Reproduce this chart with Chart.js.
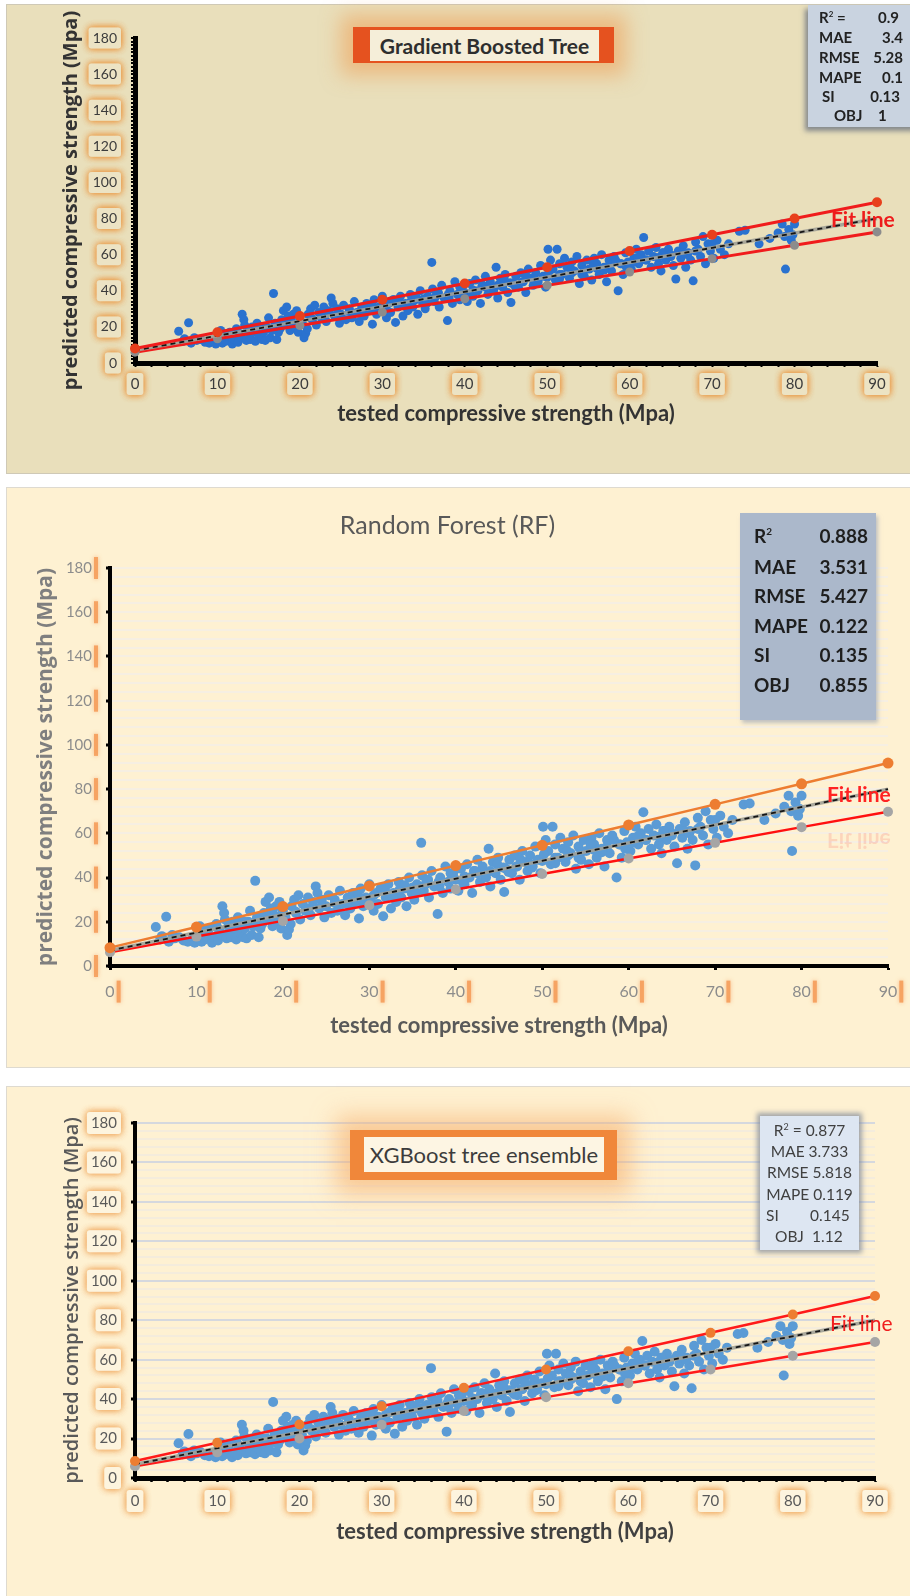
<!DOCTYPE html>
<html><head><meta charset="utf-8">
<script src="https://cdn.jsdelivr.net/npm/chart.js@4.4.1/dist/chart.umd.min.js"></script>
<style>
html,body{margin:0;padding:0;background:#fff;width:910px;height:1596px;overflow:hidden;font-family:Lato,"Liberation Sans",sans-serif;}
.abs{position:absolute;}
.panel{position:absolute;}
.panel canvas{position:absolute;left:0;top:0;}
.row{position:absolute;white-space:nowrap;transform:translateY(-50%);line-height:1;}
</style></head>
<body>
<div class="panel" id="p1" style="left:7px;top:5px;width:903px;height:468px;background:#e9dfbb;box-shadow:0 0 0 1px #cfc9b6;"><canvas id="c1" width="903" height="468"></canvas></div>
<div class="panel" id="p2" style="left:7px;top:488px;width:903px;height:579px;background:#fef1d2;box-shadow:0 0 0 1px #dedad0;"><canvas id="c2" width="903" height="579"></canvas></div>
<div class="panel" id="p3" style="left:7px;top:1087px;width:903px;height:509px;background:#fef1d2;box-shadow:0 0 0 1px #dedad0;"><canvas id="c3" width="903" height="509"></canvas></div>

<!-- panel 1 overlays -->
<div class="abs" style="left:353px;top:27px;width:261px;height:36px;background:#e5521f;box-shadow:0 0 20px 12px rgba(240,150,70,0.5);"></div>
<div class="abs" style="left:370px;top:30px;width:229px;height:31px;background:#f5eed9;display:flex;align-items:center;justify-content:center;font:700 21px Lato;color:#2e2e2e;">Gradient Boosted Tree</div>
<div class="abs" style="left:808px;top:5px;width:110px;height:122px;background:#c9d3e0;box-shadow:-3px 4px 5px rgba(90,100,120,0.7);"></div>
<div style="font:700 15px Lato;color:#222;">
<div class="row" style="left:819px;top:17px;">R<sup style="font-size:8px">2</sup> =</div><div class="row" style="right:11px;top:17px;">0.9</div>
<div class="row" style="left:819px;top:37px;">MAE</div><div class="row" style="right:7px;top:37px;">3.4</div>
<div class="row" style="left:819px;top:57px;">RMSE</div><div class="row" style="right:7px;top:57px;">5.28</div>
<div class="row" style="left:819px;top:77px;">MAPE</div><div class="row" style="right:7px;top:77px;">0.1</div>
<div class="row" style="left:822px;top:96px;">SI</div><div class="row" style="right:10px;top:96px;">0.13</div>
<div class="row" style="left:834px;top:115px;">OBJ</div><div class="row" style="left:878px;top:115px;">1</div>
</div>
<div class="row" style="left:831px;top:218px;font:700 21px Lato;color:#ee1c1c;">Fit line</div>

<!-- panel 2 overlays -->
<div class="abs" style="left:740px;top:513px;width:136px;height:207px;background:#abb8cb;box-shadow:2px 3px 4px rgba(150,160,180,0.6);"></div>
<div style="font:700 19px Lato;color:#1e1e1e;">
<div class="row" style="left:754px;top:535px;">R<sup style="font-size:10px">2</sup></div><div class="row" style="right:42px;top:535px;">0.888</div>
<div class="row" style="left:754px;top:566px;">MAE</div><div class="row" style="right:42px;top:566px;">3.531</div>
<div class="row" style="left:754px;top:595px;">RMSE</div><div class="row" style="right:42px;top:595px;">5.427</div>
<div class="row" style="left:754px;top:625px;">MAPE</div><div class="row" style="right:42px;top:625px;">0.122</div>
<div class="row" style="left:754px;top:654px;">SI</div><div class="row" style="right:42px;top:654px;">0.135</div>
<div class="row" style="left:754px;top:684px;">OBJ</div><div class="row" style="right:42px;top:684px;">0.855</div>
</div>
<div class="row" style="left:827px;top:793px;font:700 21px Lato;color:#f22;">Fit line</div>
<div class="row" style="left:827px;top:841px;font:700 21px Lato;color:rgba(240,60,60,0.16);transform:translateY(-50%) scaleY(-1);">Fit line</div>

<!-- panel 3 overlays -->
<div class="abs" style="left:350px;top:1130px;width:267px;height:50px;background:#f0873a;box-shadow:0 0 22px 14px rgba(246,170,100,0.55);"></div>
<div class="abs" style="left:364px;top:1137px;width:240px;height:35px;background:#fdf5e3;display:flex;align-items:center;justify-content:center;font:400 22px Lato;color:#3c3c3c;">XGBoost tree ensemble</div>
<div class="abs" style="left:760px;top:1116px;width:99px;height:134px;background:#dde6f2;box-shadow:0 0 5px 3px rgba(120,130,150,0.7);"></div>
<div style="font:400 15.5px Lato;color:#404040;">
<div class="row" style="left:760px;width:99px;text-align:center;top:1130px;">R<sup style="font-size:9px">2</sup> = 0.877</div>
<div class="row" style="left:760px;width:99px;text-align:center;top:1152px;">MAE 3.733</div>
<div class="row" style="left:760px;width:99px;text-align:center;top:1173px;">RMSE 5.818</div>
<div class="row" style="left:760px;width:99px;text-align:center;top:1195px;">MAPE 0.119</div>
<div class="row" style="left:766px;top:1216px;">SI</div><div class="row" style="left:810px;top:1216px;">0.145</div>
<div class="row" style="left:775px;top:1237px;">OBJ</div><div class="row" style="left:812px;top:1237px;">1.12</div>
</div>
<div class="row" style="left:830px;top:1322px;font:400 21px Lato;color:#f01e1e;">Fit line</div>

<script>
// ---------------- data ----------------
const xTickLabels = [0, 10, 20, 30, 40, 50, 60, 70, 80, 90];
const yTickLabels = [0, 20, 40, 60, 80, 100, 120, 140, 160, 180];

const testedStrength = [
  5.3, 6.5, 5.8, 6.8, 7.5, 7.2, 8.0, 8.5, 6.0,
  9, 9.5, 9.8, 10, 10.2, 10.4, 10.6, 10.8, 11, 11.2, 11.5, 11.8, 12, 12.3, 12.5, 12.7, 12.9,
  13, 13.2, 13.3, 13.5, 13.7, 13.9, 14, 14.2, 14.4, 14.6, 14.8, 15, 15.2, 15.4, 15.6, 15.8, 16, 16.2, 16.4, 16.6, 16.8,
  17, 17.2, 17.4, 17.6, 17.8, 18, 18.2, 18.4, 18.6, 18.8, 19, 19.2, 19.4, 19.6, 19.8, 20, 20.3, 20.5, 20.7, 20.9,
  21, 21.3, 21.5, 21.8, 22, 22.3, 22.6, 22.9, 23.2, 23.5, 23.8, 24, 24.2, 24.5, 24.8, 25, 25.3, 25.6,
  26, 26.3, 26.6, 26.9, 27.2, 27.5, 27.8, 28.1, 28.4, 28.8, 29, 29.3, 29.6, 30, 30.2, 30.5, 30.8,
  31, 31.3, 31.6, 31.9, 32.2, 32.5, 32.8, 33.1, 33.4, 33.7, 34, 34.3, 34.6, 34.9, 35.2, 35.5,
  36, 36.1, 36.3, 36.6, 36.9, 37.2, 37.5, 37.9, 38.2, 38.5, 38.8, 39.1, 39.4, 39.7, 40, 40.3, 40.6,
  41, 41.3, 41.6, 41.9, 42.2, 42.5, 42.8, 43.1, 43.4, 43.8, 44, 44.3, 44.6, 44.9, 45.2, 45.6, 45.8,
  46.2, 46.5, 46.8, 47.1, 47.4, 47.7, 48, 48.3, 48.6, 48.9, 49.2, 49.5, 49.8, 50.1, 50.4, 50.7, 51.2, 51,
  51.5, 51.8, 52.1, 52.4, 52.7, 53, 53.3, 53.6, 53.9, 54.2, 54.5, 54.8, 55.1, 55.4, 55.7,
  56, 56.3, 56.6, 56.9, 57.2, 57.5, 57.8, 58.1, 58.6, 58.9, 59.2, 59.5, 59.8,
  60.2, 60.5, 60.8, 61.1, 61.4, 61.7, 62, 62.3, 62.6, 62.9, 63.2, 63.5, 63.8, 64.1, 64.4, 64.7, 65,
  65.3, 65.6, 65.9, 66.2, 66.5, 66.8, 67.1, 67.4, 67.7, 68, 68.3, 68.6, 68.9, 69.2, 69.5, 69.8,
  70.2, 70.6, 71, 71.5, 72, 73.3, 74, 75.7, 77, 78, 78.5, 78.8, 78.9, 79.3, 79.6, 80, 79.8,
  11, 14, 17, 20, 23, 26, 29, 32, 35, 38, 41, 44, 47, 50, 53, 56, 59, 62, 65, 68,
  12.5, 15.5, 18.5, 21.5, 24.5, 27.5, 30.5, 33.5, 36.5, 39.5, 42.5, 45.5, 48.5, 51.5, 54.5, 57.5, 60.5, 63.5, 66.5,
  28.7, 30.1, 31.4, 32.7, 34.1, 35.4, 36.8, 38.1, 39.4, 40.8, 42.1, 43.5, 44.8, 46.1, 47.5, 48.8, 50.2, 51.5, 52.9, 54.2,
  55.6, 56.9, 58.3, 59.6, 61, 64, 67, 70
];
const predictedStrength = [
  17.6, 22.3, 12, 11, 12.5, 14, 13, 11.5, 13.5,
  11, 12, 10.5, 13, 16, 18, 11, 14, 12, 15, 17, 10.5, 13, 19, 11.5, 16, 14,
  27, 24, 21, 12.5, 18, 15, 13, 20, 17, 12, 22, 15, 19, 13, 17, 12.5, 20, 25, 14, 18, 38.5,
  22, 13, 17, 19, 24, 29, 21, 31, 26, 18, 23, 27, 20, 29, 17, 25, 22, 14, 16.5, 19,
  27, 30, 24, 32, 21, 28, 25, 31, 23, 29, 36, 33, 26, 30, 22, 27, 32, 24,
  30, 25, 34, 28, 23, 31, 26, 33, 29, 21.5, 35, 27, 31, 37, 29, 25, 33,
  28, 35, 22.5, 31, 37, 26, 33, 29, 38, 31, 35, 27, 40, 33, 30, 37,
  55.7, 41, 34, 39, 31, 43, 36, 23.5, 40, 33, 45, 38, 35, 42, 39, 34, 44,
  37, 46, 40, 33, 43, 48, 38, 45, 41, 53, 36, 47, 42, 49, 39, 33.5, 44,
  48, 42, 50, 45, 39, 52, 47, 43, 50, 45, 54, 48, 42, 63, 57, 52, 63, 46,
  55, 49, 58, 53, 47, 56, 51, 59, 44, 54, 48, 57, 52, 46, 58,
  55, 49, 60, 53, 45, 57, 51, 59, 40, 55, 49, 61, 56,
  52, 58, 63, 55, 60, 69.5, 57, 62, 53, 59, 64, 55, 51, 61, 57, 63, 59,
  54, 46.5, 62, 58, 65, 53, 61, 57, 45.5, 67, 63, 59, 70, 55, 66, 62,
  58, 68, 63, 60, 66, 73, 73.5, 66, 69, 72, 77, 70, 52, 74, 68, 77, 71,
  16, 18.5, 21, 23.5, 26, 28.5, 30.5, 33, 35.5, 38, 40.5, 43, 45, 47.5, 50, 52.5, 55, 57, 60, 62,
  17, 20, 22, 24.5, 27, 29.5, 32, 34.5, 37, 39.5, 42, 44.5, 46.5, 49, 51.5, 54, 56, 58.5, 61,
  32, 29.5, 35, 31.5, 36.5, 33, 39, 36, 42, 38, 43, 40, 46, 42.5, 48, 44.5, 50.5, 46.5, 52, 49,
  55, 51.5, 57, 53, 58.5, 61, 60, 66
];

const boundX = [0, 10, 20, 30, 40, 50, 60, 70, 80, 90];
const trendX = [0, 90];
const trendY = [7, 80];
const gbtUpper = [8, 17, 26, 35, 44, 53, 62, 71, 80, 89];
const gbtLower = [6, 13.4, 20.8, 28.2, 35.6, 43, 50.4, 57.8, 65.2, 72.6];
const rfUpper  = [8.3, 17.6, 26.9, 36.2, 45.4, 54.6, 63.8, 73.1, 82.4, 91.8];
const rfLower  = [6.2, 13.3, 20.4, 27.5, 34.6, 41.6, 48.6, 55.7, 62.8, 69.8];
const xgbUpper = [8.6, 17.9, 27.1, 36.4, 45.7, 55, 64.3, 73.6, 82.9, 92.3];
const xgbLower = [6, 13, 20, 27, 34, 41, 48, 55, 62, 69];

// ---------------- helpers ----------------
const toPts = (xs, ys) => xs.map((x, i) => ({ x: x, y: ys[i] }));
const scatterPts = testedStrength.map((t, i) => ({ x: t, y: predictedStrength[i] }));

function glowPlugin(st) {
  return {
    id: 'labelGlow',
    beforeDraw(chart) {
      const ctx = chart.ctx;
      ['x', 'y'].forEach(id => {
        const s = chart.scales[id];
        const a = st[id];
        ctx.save();
        ctx.font = (a.weight || 'normal') + ' ' + a.size + 'px ' + a.family;
        s.ticks.forEach((t, i) => {
          if (t.label === '' || t.label == null) return;
          const w = ctx.measureText(String(t.label)).width;
          let cx, cy;
          if (id === 'y') { cx = s.right - a.tl - a.pad - w / 2; cy = s.getPixelForTick(i); }
          else { cx = s.getPixelForTick(i); cy = s.top + a.tl + a.pad + a.size * 0.6; }
          if (st.style === 'box') {
            const bw = w + 8, bh = a.size + 7;
            ctx.shadowColor = st.glow; ctx.shadowBlur = 7;
            ctx.fillStyle = st.fill;
            ctx.beginPath();
            ctx.roundRect(cx - bw / 2, cy - bh / 2, bw, bh, 3);
            ctx.fill(); ctx.fill();
          } else {
            ctx.shadowColor = st.glow; ctx.shadowBlur = 4;
            ctx.fillStyle = st.fill;
            ctx.fillRect(cx + w / 2 + 2, cy - 11, 4, 22);
          }
        });
        ctx.restore();
      });
    }
  };
}

function build(id, o) {
  const lineDs = (data, color, width, r, mColor, order) => ({
    data: data, showLine: true, borderColor: color, borderWidth: width, tension: 0,
    pointRadius: r, pointBackgroundColor: mColor, pointBorderWidth: 0, order: order, clip: false
  });
  return new Chart(document.getElementById(id), {
    type: 'scatter',
    data: {
      datasets: [
        lineDs(toPts(boundX, o.upper), o.upperLine, o.lineW, o.upperR, o.upperMarker, 1),
        lineDs(toPts(trendX, trendY), '#151515', 1.8, 0, '#000', 2),
        lineDs(toPts(trendX, trendY), 'rgba(160,160,150,0.9)', 3.5, 0, '#000', 3),
        lineDs(toPts(boundX, o.lower), o.lowerLine, o.lineW, o.lowerR, o.lowerMarker, 4),
        { data: scatterPts, pointRadius: o.dotR, pointBackgroundColor: o.dotColor, pointBorderWidth: 0, order: 10, clip: false }
      ].map((d, i) => (i === 1 ? Object.assign(d, { borderDash: [5, 4] }) : d))
    },
    options: {
      responsive: false, animation: false, events: [],
      layout: { padding: { left: 0, top: o.padTop, right: o.W - o.area.right, bottom: 0 } },
      plugins: {
        legend: { display: false }, tooltip: { enabled: false },
        title: o.title || { display: false }
      },
      scales: {
        x: {
          type: 'linear', min: 0, max: 90,
          afterFit: s => { s.height = o.H - o.area.bottom; },
          border: { color: '#000', width: o.xBorder },
          grid: { drawOnChartArea: false, drawTicks: true, tickLength: 4, tickWidth: o.xTickW,
                  tickColor: c => (c.tick && (o.xMinor || xTickLabels.includes(c.tick.value))) ? '#000' : 'rgba(0,0,0,0)' },
          ticks: { stepSize: o.xStep, autoSkip: false, maxRotation: 0, padding: o.xPad,
                   font: { family: 'Lato', size: o.xFont }, color: o.tickColor,
                   callback: v => xTickLabels.includes(v) ? String(v) : '' },
          title: { display: true, text: 'tested compressive strength (Mpa)', color: o.xTitleColor,
                   font: { family: 'Lato', size: 22, weight: 'bold' }, padding: { top: 0, bottom: o.xTitlePad } }
        },
        y: {
          type: 'linear', min: 0, max: 180,
          afterFit: s => { s.width = o.area.left; },
          border: { color: '#000', width: o.yBorder },
          grid: { drawOnChartArea: o.yGrid, drawTicks: true, tickLength: 4, tickWidth: o.yTickW,
                  lineWidth: 2,
                  color: c => {
                    if (!c.tick || c.tick.value === 0) return 'rgba(0,0,0,0)';
                    return yTickLabels.includes(c.tick.value) ? o.gridMajor : o.gridMinor;
                  },
                  tickColor: c => (c.tick && (o.yMinor || yTickLabels.includes(c.tick.value))) ? '#000' : 'rgba(0,0,0,0)' },
          ticks: { stepSize: o.yStep, autoSkip: false, padding: 14,
                   font: { family: 'Lato', size: o.yFont }, color: o.tickColor,
                   callback: v => yTickLabels.includes(v) ? String(v) : '' },
          title: { display: true, text: 'predicted compressive strength (Mpa)', color: o.yTitleColor,
                   font: { family: 'Open Sans', size: o.yTitleSize, weight: o.yTitleWeight },
                   padding: { top: o.yTitlePad, bottom: 0 } }
        }
      }
    },
    plugins: [glowPlugin({
      style: o.glowStyle, fill: o.glowFill, glow: o.glowColor,
      x: { size: o.xFont, family: 'Lato', tl: 4, pad: o.xPad },
      y: { size: o.yFont, family: 'Lato', tl: 4, pad: 14 }
    })]
  });
}

// Panel 1 : Gradient Boosted Tree
build('c1', {
  W: 903, H: 468, area: { left: 128, top: 33, right: 870, bottom: 358 }, padTop: 33,
  upper: gbtUpper, lower: gbtLower, upperLine: '#f01c1c', lowerLine: '#f01c1c', lineW: 3,
  upperR: 5, upperMarker: '#e8401c', lowerR: 4.5, lowerMarker: '#8c8c8c',
  dotR: 4.5, dotColor: '#2a72cf',
  xBorder: 5, yBorder: 5, xTickW: 2, yTickW: 2, xStep: 2, yStep: 2, xMinor: true, yMinor: true,
  yGrid: false, gridMajor: 'rgba(0,0,0,0)', gridMinor: 'rgba(0,0,0,0)',
  xFont: 15, yFont: 14, xPad: 8, tickColor: '#3c3c3c',
  xTitleColor: '#333', xTitlePad: 46,
  yTitleColor: '#333', yTitleSize: 20, yTitleWeight: 'bold', yTitlePad: 52,
  glowStyle: 'box', glowFill: '#ece3c4', glowColor: 'rgba(235,145,55,0.9)'
});

// Panel 2 : Random Forest
build('c2', {
  W: 903, H: 579, area: { left: 103, top: 80, right: 881, bottom: 478 }, padTop: 0,
  title: { display: true, text: 'Random Forest (RF)', color: '#595959',
           font: { family: 'Lato', size: 25, weight: 'normal' }, padding: { top: 23, bottom: 27 } },
  upper: rfUpper, lower: rfLower, upperLine: '#ed7d31', lowerLine: '#ff1010', lineW: 2.5,
  upperR: 5.5, upperMarker: '#ed7d31', lowerR: 5, lowerMarker: '#a5a5a5',
  dotR: 5, dotColor: '#5b9bd5',
  xBorder: 4, yBorder: 4, xTickW: 3, yTickW: 3, xStep: 10, yStep: 4, xMinor: false, yMinor: false,
  yGrid: true, gridMajor: '#f6efe2', gridMinor: '#f6efe2',
  xFont: 16, yFont: 15, xPad: 12, tickColor: '#8c8c8c',
  xTitleColor: '#595959', xTitlePad: 28,
  yTitleColor: '#7f7f7f', yTitleSize: 21, yTitleWeight: 'bold', yTitlePad: 26,
  glowStyle: 'bar', glowFill: 'rgba(245,160,95,0.95)', glowColor: 'rgba(245,170,110,0.8)'
});

// Panel 3 : XGBoost
build('c3', {
  W: 903, H: 509, area: { left: 128, top: 36, right: 868, bottom: 391 }, padTop: 36,
  upper: xgbUpper, lower: xgbLower, upperLine: '#ff1a1a', lowerLine: '#ff1a1a', lineW: 2.5,
  upperR: 5, upperMarker: '#ed7d31', lowerR: 5, lowerMarker: '#a5a5a5',
  dotR: 5, dotColor: '#5b9bd5',
  xBorder: 5, yBorder: 4, xTickW: 2.5, yTickW: 3, xStep: 2, yStep: 4, xMinor: true, yMinor: false,
  yGrid: true, gridMajor: '#d5d8de', gridMinor: '#f4ecdc',
  xFont: 15, yFont: 15, xPad: 10, tickColor: '#595959',
  xTitleColor: '#404040', xTitlePad: 51,
  yTitleColor: '#595959', yTitleSize: 20, yTitleWeight: '600', yTitlePad: 53,
  glowStyle: 'box', glowFill: '#fdf4de', glowColor: 'rgba(238,160,80,0.85)'
});
</script>
</body></html>
